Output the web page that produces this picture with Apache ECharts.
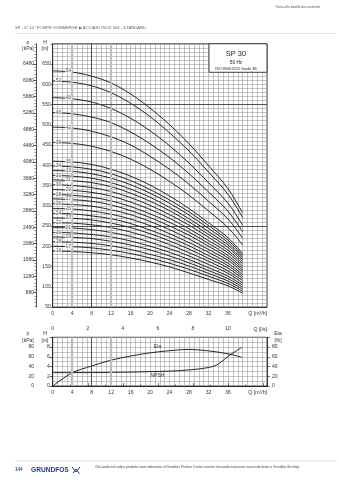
<!DOCTYPE html>
<html>
<head>
<meta charset="utf-8">
<script src="https://cdn.jsdelivr.net/npm/echarts@6/dist/echarts.min.js"></script>
<style>
  html, body { margin: 0; padding: 0; background: #fff; }
  #chart { width: 339px; height: 480px; }
</style>
</head>
<body>
<div id="chart"></div>
<script>
// Flow rate points (m³/h) where each pump curve is sampled
const flowM3h = [0, 4, 8, 12, 16, 20, 24, 28, 32, 36, 39];

// Head H [m] for each stage count
const h54 = [633, 630, 620, 603, 576, 541, 500, 453, 399, 342, 282];
const h52 = [608, 605, 596, 579, 553, 520, 480, 435, 383, 328, 271];
const h48 = [567, 564, 556, 540, 516, 485, 448, 405, 357, 306, 252];
const h45 = [530, 527, 519, 505, 482, 453, 419, 379, 334, 286, 236];
const h42 = [494, 492, 484, 470, 450, 422, 390, 353, 311, 267, 220];
const h39 = [456, 454, 447, 434, 415, 390, 360, 326, 287, 246, 203];
const h35 = [410, 408, 402, 390, 373, 351, 324, 293, 258, 221, 182];
const h34 = [398, 396, 390, 379, 362, 340, 314, 285, 251, 215, 177];
const h33 = [387, 385, 379, 368, 352, 331, 306, 277, 244, 209, 172];
const h32 = [375, 373, 368, 357, 341, 321, 296, 268, 236, 203, 167];
const h31 = [364, 362, 357, 347, 331, 311, 288, 260, 229, 197, 162];
const h30 = [352, 350, 345, 335, 320, 301, 278, 252, 222, 190, 157];
const h29 = [340, 338, 333, 324, 309, 291, 269, 243, 214, 184, 151];
const h28 = [328, 326, 321, 312, 298, 280, 259, 235, 207, 177, 146];
const h27 = [317, 315, 311, 302, 288, 271, 250, 227, 200, 171, 141];
const h26 = [305, 303, 299, 290, 278, 261, 241, 218, 192, 165, 136];
const h25 = [293, 292, 287, 279, 267, 251, 231, 209, 185, 158, 130];
const h24 = [281, 280, 275, 268, 256, 240, 222, 201, 177, 152, 125];
const h23 = [270, 269, 265, 257, 246, 231, 213, 193, 170, 146, 120];
const h22 = [258, 257, 253, 246, 235, 221, 204, 184, 163, 139, 115];
const h21 = [246, 245, 241, 234, 224, 210, 194, 176, 155, 133, 109];
const h20 = [234, 233, 229, 223, 213, 200, 185, 167, 147, 126, 104];
const h19 = [223, 222, 219, 212, 203, 191, 176, 159, 140, 120, 99];
const h18 = [211, 210, 207, 201, 192, 180, 167, 151, 133, 114, 94];
const h17 = [200, 199, 196, 190, 182, 171, 158, 143, 126, 108, 89];
const h16 = [188, 187, 184, 179, 171, 161, 149, 134, 118, 102, 84];

const stageCurves = [
  ['54', h54], ['52', h52], ['48', h48], ['45', h45], ['42', h42], ['39', h39],
  ['35', h35], ['34', h34], ['33', h33], ['32', h32], ['31', h31], ['30', h30],
  ['29', h29], ['28', h28], ['27', h27], ['26', h26], ['25', h25], ['24', h24],
  ['23', h23], ['22', h22], ['21', h21], ['20', h20], ['19', h19], ['18', h18],
  ['17', h17], ['16', h16]
];

// Efficiency curve
const etaFlow = [0, 4, 8, 12, 16, 20, 24, 28, 32, 36, 38.8];
const etaValues = [0, 27, 41, 53, 61.5, 68, 72.5, 75, 72, 66, 59];

// NPSH curve (m)
const npshFlow = [0, 4, 8, 12, 16, 20, 24, 28, 32, 34, 36, 38.8];
const npshValues = [2.75, 2.75, 2.75, 2.8, 2.85, 2.95, 3.05, 3.3, 3.8, 4.5, 6.1, 7.9];

// Tick labels
const pressureTicks = [880, 1280, 1680, 2080, 2480, 2880, 3280, 3680, 4080, 4480, 4880, 5280, 5680, 6080, 6480];
const pressureMinorTicks = [];
for (let v = 560; v <= 6960; v += 80) pressureMinorTicks.push(v);

const FONT = 'Liberation Sans, Arial, sans-serif';
const GRID_C = '#8a8a8a';
const AXIS_C = '#222';
const TXT_C = '#333';

const chart = echarts.init(document.getElementById('chart'), null, { renderer: 'canvas' });

function qAxis(gridIndex) {
  return {
    gridIndex, type: 'value', min: 0, max: 44, interval: 4,
    axisLine: { show: true, lineStyle: { color: AXIS_C, width: 0.8 } },
    axisTick: { show: false },
    axisLabel: { fontSize: 5, color: TXT_C, margin: 4, fontFamily: FONT,
      formatter: v => (v <= 36 ? String(v) : '') },
    splitLine: { show: true, lineStyle: { color: GRID_C, width: 0.5 } },
    minorTick: { show: false, splitNumber: 4 },
    minorSplitLine: { show: true, lineStyle: { color: GRID_C, width: 0.5 } }
  };
}

const series = [];

// Reference lines drawn beneath the curves
series.push({
  type: 'line', xAxisIndex: 0, yAxisIndex: 0, data: [], z: 1, silent: true,
  markLine: {
    silent: true, symbol: 'none', label: { show: false },
    data: [
      { xAxis: 4, lineStyle: { color: '#bdbdbd', width: 2.2, type: 'solid' } },
      { xAxis: 12, lineStyle: { color: '#bdbdbd', width: 2.2, type: 'solid' } },
      { xAxis: 8, lineStyle: { color: '#333', width: 0.8, type: 'solid' } },
      { yAxis: 250, lineStyle: { color: '#333', width: 0.8, type: 'solid' } },
      { yAxis: 550, lineStyle: { color: '#333', width: 0.8, type: 'solid' } }
    ]
  }
});
series.push({
  type: 'line', xAxisIndex: 1, yAxisIndex: 3, data: [], z: 1, silent: true,
  markLine: {
    silent: true, symbol: 'none', label: { show: false },
    data: [
      { xAxis: 4, lineStyle: { color: '#bdbdbd', width: 2.2, type: 'solid' } },
      { xAxis: 12, lineStyle: { color: '#bdbdbd', width: 2.2, type: 'solid' } },
      { xAxis: 8, lineStyle: { color: '#333', width: 0.8, type: 'solid' } }
    ]
  }
});

// Q-H curves, one per stage count
stageCurves.forEach(([name, heads]) => {
  series.push({
    name: 'SP 30-' + name, type: 'line', xAxisIndex: 0, yAxisIndex: 0,
    data: flowM3h.map((q, i) => [q, heads[i]]),
    smooth: 0.35, symbol: 'none', silent: true, z: 3,
    lineStyle: { color: '#111', width: 0.9 }
  });
});

// Stage number tags sitting on each curve, alternating between two columns
series.push({
  type: 'scatter', xAxisIndex: 0, yAxisIndex: 0, symbolSize: 0, silent: true, z: 6,
  data: stageCurves.map(([name, heads], i) => ({
    value: [i % 2 === 0 ? 3.2 : 1.2, heads[0]],
    label: { formatter: name }
  })),
  label: {
    show: true, position: 'inside', fontSize: 5, color: '#3a3a3a', fontFamily: FONT,
    backgroundColor: '#fff', padding: [0, 0.6]
  }
});

// Efficiency
series.push({
  name: 'Eta', type: 'line', xAxisIndex: 1, yAxisIndex: 5,
  data: etaFlow.map((q, i) => [q, etaValues[i]]),
  smooth: 0.35, symbol: 'none', silent: true, z: 3,
  lineStyle: { color: '#111', width: 0.9 },
  markPoint: {
    symbolSize: 0, silent: true,
    data: [{ coord: [21.5, 81], label: { show: true, formatter: 'Eta', fontSize: 5, color: TXT_C, fontFamily: FONT } }]
  }
});

// NPSH
series.push({
  name: 'NPSH', type: 'line', xAxisIndex: 1, yAxisIndex: 3,
  data: npshFlow.map((q, i) => [q, npshValues[i]]),
  smooth: 0.35, symbol: 'none', silent: true, z: 3,
  lineStyle: { color: '#111', width: 0.9 },
  markPoint: {
    symbolSize: 0, silent: true,
    data: [{ coord: [21.5, 2.1], label: { show: true, formatter: 'NPSH', fontSize: 5, color: TXT_C, fontFamily: FONT } }]
  }
});

function txt(x, y, text, opts) {
  return {
    type: 'text', x, y, z: 10, silent: true,
    style: Object.assign({ text, fontSize: 5, fill: TXT_C, fontFamily: FONT, textAlign: 'center', textVerticalAlign: 'middle' }, opts || {})
  };
}

const graphics = [
  txt(320, 7, 'Torna alla tabella dei contenuti', { fontSize: 3.3, fill: '#555', textAlign: 'right' }),
  txt(15, 28, 'SP - 6"-10" POMPE SOMMERSE \u25B6 ACCIAIO INOX 304 - STANDARD', { fontSize: 4.2, fill: '#666', textAlign: 'left' }),
  { type: 'line', silent: true, shape: { x1: 15, y1: 33.5, x2: 335, y2: 33.5 }, style: { stroke: '#d0d0d0', lineWidth: 0.6 } },

  txt(28, 43, 'p'), txt(28, 49, '[kPa]'),
  txt(45, 43, 'H'), txt(45, 49, '[m]'),
  txt(267, 313.5, 'Q [m\u00B3/h]', { textAlign: 'right', fontSize: 5.2 }),
  txt(267, 329.5, 'Q [l/s]', { textAlign: 'right', fontSize: 5.2 }),

  txt(28, 334, 'p'), txt(28, 341, '[kPa]'),
  txt(45, 334, 'H'), txt(45, 341, '[m]'),
  txt(278, 334, 'Eta'), txt(278, 341, '[%]'),
  txt(267, 392.5, 'Q [m\u00B3/h]', { textAlign: 'right', fontSize: 5.2 }),

  // Model box in the top-right corner of the Q-H plot
  { type: 'rect', z: 8, silent: true, shape: { x: 209, y: 43.75, width: 58, height: 28.5 },
    style: { fill: '#fff', stroke: AXIS_C, lineWidth: 0.8 } },
  txt(236, 53.5, 'SP 30', { fontSize: 7.5, fill: '#222' }),
  txt(236, 63, '50 Hz', { fontSize: 4.8, fill: '#222' }),
  txt(236, 69, 'ISO 9906:2012 Grade 3B', { fontSize: 3.7, fill: '#222' }),

  // Footer
  { type: 'line', silent: true, shape: { x1: 15, y1: 461, x2: 337, y2: 461 }, style: { stroke: '#d0d0d0', lineWidth: 0.6 } },
  txt(15, 470, '144', { fontSize: 4.5, fill: '#1f4e9c', textAlign: 'left', fontWeight: 'bold' }),
  txt(31, 470, 'GRUNDFOS', { fontSize: 6.6, fill: '#233f8c', textAlign: 'left', fontWeight: 'bold' }),
  { type: 'polyline', silent: true, shape: { points: [[72, 467], [76, 472], [80, 467]] }, style: { stroke: '#233f8c', lineWidth: 1, fill: null } },
  { type: 'polyline', silent: true, shape: { points: [[73, 473], [76, 469], [79.5, 473.5]] }, style: { stroke: '#233f8c', lineWidth: 1, fill: null } },
  txt(95, 467, 'Cliccando sul codice prodotto sarai indirizzato al Grundfos Product Center, mentre cliccando sul prezzo sarai indirizzato a Grundfos Ecishop.', { fontSize: 3.3, fill: '#444', textAlign: 'left' })
];

const option = {
  animation: false,
  backgroundColor: '#fff',
  textStyle: { fontFamily: FONT },
  grid: [
    { left: 52.7, top: 43.75, width: 214.3, height: 263.25, show: true, borderColor: AXIS_C, borderWidth: 0.8, backgroundColor: 'transparent' },
    { left: 52.7, top: 337.25, width: 214.3, height: 48.75, show: true, borderColor: AXIS_C, borderWidth: 0.8, backgroundColor: 'transparent' }
  ],
  xAxis: [
    qAxis(0),
    qAxis(1),
    {
      gridIndex: 1, type: 'value', position: 'top', offset: 14, min: 0, max: 44 / 3.6, interval: 2,
      axisLine: { show: true, lineStyle: { color: AXIS_C, width: 0.8 } },
      axisTick: { show: true, inside: false, length: 3, lineStyle: { color: AXIS_C, width: 0.6 } },
      minorTick: { show: true, splitNumber: 2, length: 1.5, lineStyle: { color: AXIS_C, width: 0.6 } },
      axisLabel: { inside: true, margin: 3, fontSize: 5, color: TXT_C, fontFamily: FONT,
        formatter: v => (v <= 10 ? String(v) : '') },
      splitLine: { show: false }
    }
  ],
  yAxis: [
    { // 0: head, main plot
      gridIndex: 0, type: 'value', min: 50, max: 700, interval: 50, position: 'left',
      axisLine: { show: true, lineStyle: { color: AXIS_C, width: 0.8 } },
      axisTick: { show: true, length: 2, lineStyle: { color: AXIS_C, width: 0.6 } },
      axisLabel: { fontSize: 5, color: TXT_C, margin: 2, fontFamily: FONT, formatter: v => (v < 700 ? String(v) : '') },
      splitLine: { show: true, lineStyle: { color: GRID_C, width: 0.5 } },
      minorTick: { show: false, splitNumber: 5 },
      minorSplitLine: { show: true, lineStyle: { color: GRID_C, width: 0.5 } }
    },
    { // 1: pressure, main plot
      gridIndex: 0, type: 'value', min: 530, max: 6976, position: 'left', offset: 16.7,
      axisLine: { show: true, lineStyle: { color: AXIS_C, width: 0.8 } },
      axisTick: { show: true, length: 3, customValues: pressureTicks, lineStyle: { color: AXIS_C, width: 0.6 } },
      axisLabel: { fontSize: 5, color: TXT_C, margin: 2, fontFamily: FONT, customValues: pressureTicks,
        formatter: v => String(Math.round(v)) },
      splitLine: { show: false }
    },
    { // 2: pressure minor ticks
      gridIndex: 0, type: 'value', min: 530, max: 6976, position: 'left', offset: 16.7,
      axisLine: { show: false },
      axisTick: { show: true, length: 1.5, customValues: pressureMinorTicks, lineStyle: { color: AXIS_C, width: 0.5 } },
      axisLabel: { show: false },
      splitLine: { show: false }
    },
    { // 3: head, lower plot
      gridIndex: 1, type: 'value', min: 0, max: 10, interval: 2, position: 'left',
      axisLine: { show: true, lineStyle: { color: AXIS_C, width: 0.8 } },
      axisTick: { show: true, length: 2, lineStyle: { color: AXIS_C, width: 0.6 } },
      axisLabel: { fontSize: 5, color: TXT_C, margin: 3, fontFamily: FONT, formatter: v => (v < 10 ? String(v) : '') },
      splitLine: { show: true, lineStyle: { color: GRID_C, width: 0.5 } },
      minorTick: { show: false, splitNumber: 2 },
      minorSplitLine: { show: true, lineStyle: { color: GRID_C, width: 0.5 } }
    },
    { // 4: pressure, lower plot
      gridIndex: 1, type: 'value', min: 0, max: 100, interval: 20, position: 'left', offset: 16.7,
      axisLine: { show: true, lineStyle: { color: AXIS_C, width: 0.8 } },
      axisTick: { show: true, length: 3, lineStyle: { color: AXIS_C, width: 0.6 } },
      axisLabel: { fontSize: 5, color: TXT_C, margin: 2, fontFamily: FONT, formatter: v => (v < 100 ? String(v) : '') },
      splitLine: { show: false }
    },
    { // 5: efficiency, lower plot
      gridIndex: 1, type: 'value', min: 0, max: 100, interval: 20, position: 'right',
      axisLine: { show: true, lineStyle: { color: AXIS_C, width: 0.8 } },
      axisTick: { show: true, length: 3, lineStyle: { color: AXIS_C, width: 0.6 } },
      axisLabel: { fontSize: 5, color: TXT_C, margin: 5, fontFamily: FONT, formatter: v => (v < 100 ? String(v) : '') },
      splitLine: { show: false }
    }
  ],
  series,
  graphic: { elements: graphics }
};

chart.setOption(option);
</script>
</body>
</html>
